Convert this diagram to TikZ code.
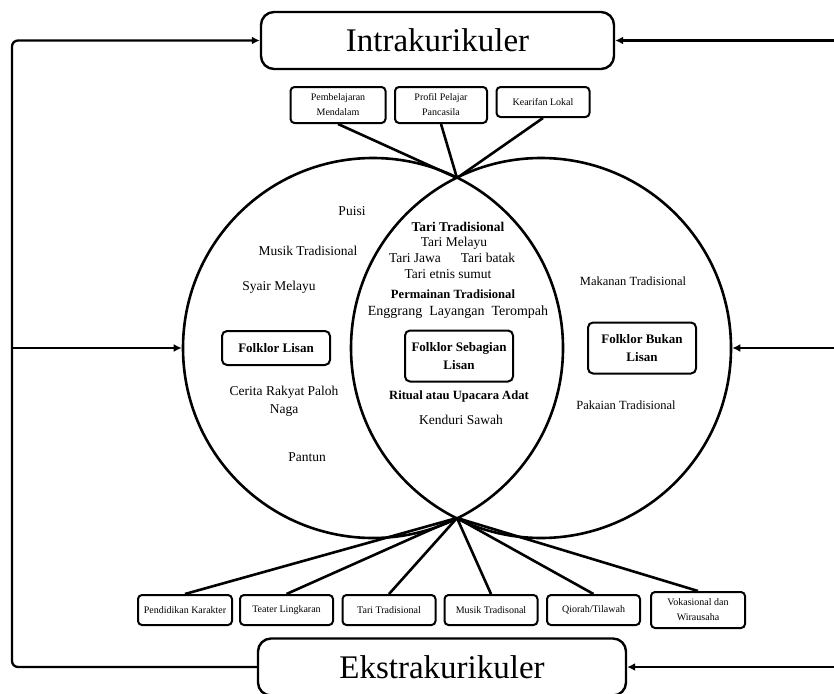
\documentclass[tikz,border=0pt]{standalone}
\usepackage{fontspec}
\setmainfont{Liberation Serif}
\usetikzlibrary{arrows.meta}

\tikzset{
  kurbox/.style={draw, line width=2.4pt, rounded corners=13pt, minimum height=57pt, font=\fontsize{33}{40}\selectfont},
  kecilbox/.style={draw, line width=2pt, rounded corners=4pt, minimum height=30pt, align=center, inner sep=1pt, font=\fontsize{10}{15}\selectfont},
  folkbox/.style={draw, line width=2pt, rounded corners=5pt, minimum width=108pt, align=center, font=\bfseries\fontsize{13}{18}\selectfont},
  isi/.style={inner sep=0pt, align=center, font=\fontsize{13.5}{18}\selectfont},
  isib/.style={inner sep=0pt, font=\bfseries\fontsize{12.6}{15}\selectfont},
  panah/.style={line width=2.3pt, -{Latex[length=8pt,width=8pt]}},
  garis/.style={line width=2.6pt},
}

\begin{document}
\begin{tikzpicture}[x=1pt,y=-1pt]
    \useasboundingbox (0,0) rectangle (834,693);
    % lingkaran folklor
    \node[draw, circle, line width=2.6pt, minimum size=380pt] (kiri) at (373,348) {};
    \node[draw, circle, line width=2.6pt, minimum size=380pt] (kanan) at (541,348) {};
    \coordinate (atas) at (457,178);
    \coordinate (bawah) at (457,518);

    % kotak kurikuler
    \node[kurbox, minimum width=353pt] (intra) at (437.5,40.5) {Intrakurikuler};
    \node[kurbox, minimum width=368pt] (ekstra) at (442,667) {Ekstrakurikuler};

    % intrakurikuler
    \node[kecilbox, minimum width=95pt, minimum height=36pt] (pemb) at (338,105) {Pembelajaran\\Mendalam};
    \node[kecilbox, minimum width=92pt, minimum height=36pt] (profil) at (441,105) {Profil Pelajar\\Pancasila};
    \node[kecilbox, minimum width=93pt] (kearifan) at (543,102) {Kearifan Lokal};
    \draw[garis] (pemb.south) -- (atas);
    \draw[garis] (profil.south) -- (atas);
    \draw[garis] (kearifan.south) -- (atas);

    % ekstrakurikuler
    \node[kecilbox, minimum width=94pt] (karakter) at (185,610) {Pendidikan Karakter};
    \node[kecilbox, minimum width=93pt] (teater) at (286.5,610) {Teater Lingkaran};
    \node[kecilbox, minimum width=93pt] (tari) at (389,610) {Tari Tradisional};
    \node[kecilbox, minimum width=93pt] (musik) at (491,610) {Musik Tradisonal};
    \node[kecilbox, minimum width=93pt] (qiorah) at (593.5,610) {Qiorah/Tilawah};
    \node[kecilbox, minimum width=94pt, minimum height=36pt] (vokasi) at (698,610) {Vokasional dan\\Wirausaha};
    \foreach \k in {karakter,teater,tari,musik,qiorah,vokasi}
        \draw[garis] (bawah) -- (\k.north);

    % folklor lisan
    \node[folkbox, minimum height=34pt] (lisan) at (276,348) {Folklor Lisan};
    \node[isi] (puisi) at (352,211) {Puisi};
    \node[isi] (musikt) at (308,251) {Musik Tradisional};
    \node[isi] (syair) at (279,287) {Syair Melayu};
    \node[isi] (cerita) at (284,401) {Cerita Rakyat Paloh\\Naga};
    \node[isi] (pantun) at (307,457) {Pantun};

    % folklor sebagian lisan
    \node[folkbox, minimum height=51pt] (sebagian) at (459,356) {Folklor Sebagian\\Lisan};
    \node[isib, font=\bfseries\fontsize{13.4}{15}\selectfont] (taritr) at (458,227) {Tari Tradisional};
    \node[isi] (melayu) at (454,243) {Tari Melayu};
    \node[isi] (jawa) at (415,258) {Tari Jawa};
    \node[isi] (batak) at (488,258) {Tari batak};
    \node[isi] (etnis) at (448,274) {Tari etnis sumut};
    \node[isib] (permainan) at (453,294) {Permainan Tradisional};
    \node[isi, font=\fontsize{14}{18}\selectfont] (enggrang) at (458,312) {Enggrang\ \ Layangan\ \ Terompah};
    \node[isib] (ritual) at (459,396) {Ritual atau Upacara Adat};
    \node[isi] (kenduri) at (461,420) {Kenduri Sawah};

    % folklor bukan lisan
    \node[folkbox, minimum height=51pt] (bukan) at (642,348) {Folklor Bukan\\Lisan};
    \node[isi, font=\fontsize{12.5}{15}\selectfont] (makanan) at (633,281) {Makanan Tradisional};
    \node[isi, font=\fontsize{12.5}{15}\selectfont] (pakaian) at (626,405) {Pakaian Tradisional};

    % panah kiri
    \coordinate (belok) at (12,348);
    \draw[panah, {Latex[length=8pt,width=8pt]}-, rounded corners=6pt] (intra.west) -| (belok) |- (ekstra.west);
    \draw[panah] (belok) -- (kiri.west);
    % panah kanan
    \coordinate (kanan1) at (834,40.5);
    \coordinate (kanan2) at (834,348);
    \coordinate (kanan3) at (834,667);
    \draw[panah] (kanan1) -- (intra.east);
    \draw[panah] (kanan2) -- (kanan.east);
    \draw[panah] (kanan3) -- (ekstra.east);
\end{tikzpicture}
\end{document}
